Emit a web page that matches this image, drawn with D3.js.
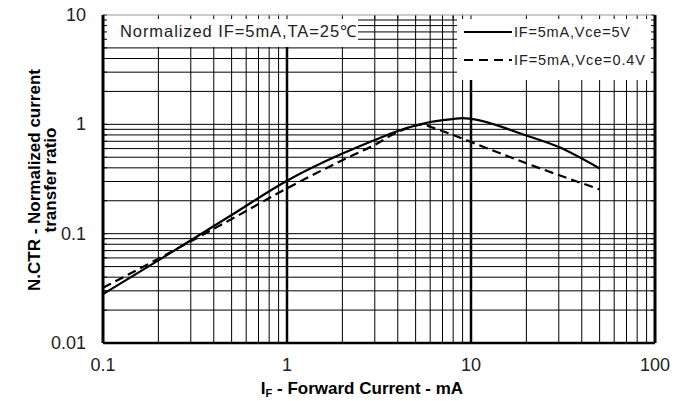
<!DOCTYPE html>
<html>
<head>
<meta charset="utf-8">
<script src="https://cdn.jsdelivr.net/npm/d3@7"></script>
<style>
  body { margin: 0; background: #fff; }
  svg { font-family: "Liberation Sans", Arial, sans-serif; }
</style>
</head>
<body>
<div id="chart"></div>
<script>
// forward current (mA) and normalized CTR
const ifSolid = [0.1, 0.2, 0.5, 1, 2, 3, 4, 5, 6, 8, 9, 10, 20, 30, 50];
const ctrSolid = [0.028, 0.057, 0.148, 0.305, 0.54, 0.72, 0.87, 0.975, 1.05, 1.12, 1.14, 1.12, 0.79, 0.62, 0.395];
const ifDash = [0.1, 0.2, 0.5, 1, 2, 3, 4, 5, 5.5, 6, 8, 10, 20, 50];
const ctrDash = [0.032, 0.059, 0.136, 0.26, 0.47, 0.65, 0.85, 0.975, 1.0, 0.95, 0.8, 0.69, 0.44, 0.254];
const xTicks = [0.1, 1, 10, 100];
const yTicks = [0.01, 0.1, 1, 10];
const legendLabels = ["IF=5mA,Vce=5V", "IF=5mA,Vce=0.4V"];
const note = "Normalized IF=5mA,TA=25\u2103";

const width = 687, height = 401;
const pLeft = 103, pRight = 655, pTop = 15, pBottom = 343;

const svg = d3.select('#chart').append('svg')
    .attr('width', width).attr('height', height);

const x = d3.scaleLog().domain([0.1, 100]).range([pLeft, pRight]);
const y = d3.scaleLog().domain([0.01, 10]).range([pBottom, pTop]);

// minor positions in each decade
function minors(lo, hi) {
    const out = [];
    for (let d = lo; d < hi; d *= 10)
        for (let k = 2; k <= 9; k++) out.push(d * k);
    return out;
}
const xMinor = minors(0.1, 100), yMinor = minors(0.01, 10);

const grid = svg.append('g').attr('id', 'grid');
grid.selectAll('line.vx').data(xMinor).enter().append('line')
    .attr('x1', d => x(d)).attr('x2', d => x(d))
    .attr('y1', pTop).attr('y2', pBottom)
    .attr('stroke', '#000').attr('stroke-width', 1);
grid.selectAll('line.hy').data(yMinor.concat([0.1, 1])).enter().append('line')
    .attr('x1', pLeft).attr('x2', pRight)
    .attr('y1', d => y(d)).attr('y2', d => y(d))
    .attr('stroke', '#000').attr('stroke-width', 1);
// heavy decade lines
grid.selectAll('line.major').data([1, 10]).enter().append('line')
    .attr('x1', d => x(d)).attr('x2', d => x(d))
    .attr('y1', pTop).attr('y2', pBottom)
    .attr('stroke', '#000').attr('stroke-width', 2.5);

// white boxes for the note and the legend
svg.append('rect').attr('x', pLeft).attr('y', pTop)
    .attr('width', 255).attr('height', 32).attr('fill', '#fff');
svg.append('rect').attr('x', 457).attr('y', pTop)
    .attr('width', pRight - 457).attr('height', 65).attr('fill', '#fff');

// small inward ticks on the frame
const ticks = svg.append('g');
const allX = xMinor.concat(xTicks), allY = yMinor.concat(yTicks);
ticks.selectAll('line.tt').data(allX).enter().append('line')
    .attr('x1', d => x(d)).attr('x2', d => x(d))
    .attr('y1', pTop).attr('y2', pTop + 4).attr('stroke', '#000');
ticks.selectAll('line.tl').data(allY).enter().append('line')
    .attr('x1', pLeft).attr('x2', pLeft + 4)
    .attr('y1', d => y(d)).attr('y2', d => y(d)).attr('stroke', '#000');
ticks.selectAll('line.tr').data(allY).enter().append('line')
    .attr('x1', pRight - 4).attr('x2', pRight)
    .attr('y1', d => y(d)).attr('y2', d => y(d)).attr('stroke', '#000');

// frame
svg.append('line').attr('x1', pLeft).attr('x2', pRight).attr('y1', pTop).attr('y2', pTop)
    .attr('stroke', '#999').attr('stroke-width', 1);
svg.append('line').attr('x1', pLeft).attr('x2', pRight).attr('y1', pBottom).attr('y2', pBottom)
    .attr('stroke', '#000').attr('stroke-width', 2.5);
svg.append('line').attr('x1', pLeft).attr('x2', pLeft).attr('y1', pTop).attr('y2', pBottom)
    .attr('stroke', '#000').attr('stroke-width', 3);
svg.append('line').attr('x1', pRight).attr('x2', pRight).attr('y1', pTop).attr('y2', pBottom)
    .attr('stroke', '#000').attr('stroke-width', 3);

// curves
const line = d3.line().x(d => x(d[0])).y(d => y(d[1])).curve(d3.curveMonotoneX);
svg.append('path').datum(d3.zip(ifSolid, ctrSolid)).attr('d', line)
    .attr('fill', 'none').attr('stroke', '#000').attr('stroke-width', 2.2);
svg.append('path').datum(d3.zip(ifDash, ctrDash)).attr('d', line)
    .attr('fill', 'none').attr('stroke', '#000').attr('stroke-width', 2.2)
    .attr('stroke-dasharray', '9,5');

// tick labels
svg.selectAll('text.xl').data(xTicks).enter().append('text')
    .attr('x', d => x(d)).attr('y', 371)
    .attr('text-anchor', 'middle').attr('font-size', 18).attr('fill', '#222')
    .text(d => d3.format('~g')(d));
svg.selectAll('text.yl').data(yTicks).enter().append('text')
    .attr('x', 86).attr('y', d => y(d) + 6)
    .attr('text-anchor', 'end').attr('font-size', 18).attr('fill', '#222')
    .text(d => d3.format('~g')(d));

// axis titles
const xt = svg.append('text').attr('x', 362).attr('y', 394)
    .attr('text-anchor', 'middle').attr('font-size', 17).attr('font-weight', 'bold');
xt.append('tspan').text('I');
xt.append('tspan').attr('font-size', 11).attr('dy', 3).text('F');
xt.append('tspan').attr('dy', -3).text(' - Forward Current - mA');

const yt = svg.append('text').attr('transform', 'translate(40,180) rotate(-90)')
    .attr('text-anchor', 'middle').attr('font-size', 17).attr('font-weight', 'bold');
yt.append('tspan').attr('x', 0).attr('y', 0).text('N.CTR - Normalized current');
yt.append('tspan').attr('x', 0).attr('y', 16).text('transfer ratio');

// note
svg.append('text').attr('x', 120).attr('y', 37).attr('font-size', 16.5).attr('fill', '#222')
    .attr('textLength', 236).attr('lengthAdjust', 'spacing')
    .text(note);

// legend
const legend = svg.append('g');
const legendWidths = [116, 131];
legendLabels.forEach((lab, i) => {
    const ly = 32 + i * 28;
    legend.append('line').attr('x1', 464).attr('x2', 512).attr('y1', ly).attr('y2', ly)
        .attr('stroke', '#000').attr('stroke-width', 2.2)
        .attr('stroke-dasharray', i ? '9,6' : null);
    legend.append('text').attr('x', 514).attr('y', ly + 5).attr('font-size', 14.5)
        .attr('fill', '#222').attr('textLength', legendWidths[i]).attr('lengthAdjust', 'spacing')
        .text(lab);
});
</script>
</body>
</html>
